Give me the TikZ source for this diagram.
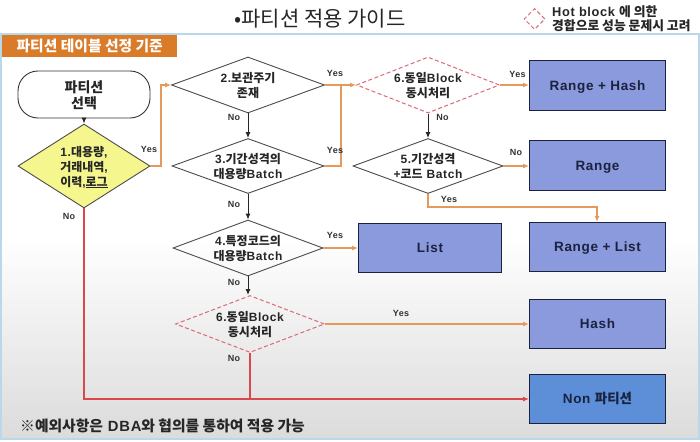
\documentclass[tikz,border=0pt]{standalone}
\usepackage{fontspec}
\setmainfont{Liberation Sans}[LetterSpace=5]
\newfontfamily\krf{Noto Sans CJK KR}
\newcommand{\kr}[1]{{\krf #1}}
\usetikzlibrary{shapes.geometric,arrows.meta}
\definecolor{orangeline}{HTML}{E59A5C}
\definecolor{redline}{HTML}{D9484C}
\definecolor{dashred}{HTML}{DB6A78}
\definecolor{boxblue}{HTML}{8A9ADC}
\definecolor{boxnon}{HTML}{5C8FD8}
\definecolor{navy}{HTML}{1A2240}
\definecolor{headorange}{HTML}{D97B28}
\definecolor{panelline}{HTML}{B9D8EA}
\definecolor{dyellow}{HTML}{F6F68E}
\tikzset{
  x=1pt,y=-1pt,
  dec/.style={diamond,draw=black!70,line width=0.9pt,inner sep=-9pt,align=center,text depth=0pt,font=\fontsize{12}{15}\selectfont\bfseries,text=black!85},
  hot/.style={dec,draw=dashred,line width=1pt,dash pattern=on 4pt off 2.5pt},
  result/.style={rectangle,draw=navy,line width=1pt,fill=boxblue,inner sep=0pt,anchor=north west,text height=9.6pt,text depth=0pt,font=\fontsize{13.5}{15}\selectfont\bfseries,text=navy},
  lab/.style={font=\fontsize{9}{10}\selectfont\bfseries,text=black!80,inner sep=0pt},
  yesline/.style={draw=orangeline,line width=1.3pt},
  noline/.style={draw=redline,line width=1.3pt},
  blk/.style={draw=black!85,line width=1pt,-{Latex[length=6pt,width=5pt]}},
  otip/.style={-{Latex[length=6pt,width=5pt]}},
}
\begin{document}
\begin{tikzpicture}
\useasboundingbox (0,0) rectangle (700,441);
\fill[white] (0,0) rectangle (700,441);
\shade[top color=white,bottom color=black!14,middle color=white] (1,34) rectangle (699,439);
\draw[panelline,line width=1.6pt] (1,34) rectangle (699,439);
% header
\node[fill=headorange,draw=none,minimum width=175pt,minimum height=22pt,inner sep=0pt,anchor=north west,text=white,font=\fontsize{14.8}{16}\selectfont\bfseries] (head) at (2,35) {\kr{파티션 테이블 선정 기준}};
% title
\node[inner sep=0pt,font=\fontsize{21}{24}\selectfont,text=black!85] (title) at (320,19) {\kr{•파티션 적용 가이드}};
% legend
\node[hot,minimum width=21pt,minimum height=21pt] (legd) at (534.5,19) {};
\node[inner sep=0pt,align=left,anchor=west,font=\fontsize{12.8}{14}\selectfont\bfseries,text=black!85] (legt) at (552,19) {Hot block \kr{에 의한}\\\kr{경합으로 성능 문제시 고려}};
% start
\node[draw=black!80,line width=0.9pt,fill=white,rounded corners=20pt,minimum width=132pt,minimum height=47pt,inner sep=0pt,align=center,text depth=0pt,font=\fontsize{14}{16}\selectfont\bfseries,text=black!85] (start) at (84,94.5) {\kr{파티션}\\\kr{선택}};
% decisions
\node[dec,fill=dyellow,minimum width=132pt,minimum height=84pt,shape aspect=1.57] (d1) at (84,166) {1.\kr{대용량},\\\kr{거래내역},\\\kr{이력},\underline{\kr{로그}}};
\node[dec,minimum width=153pt,minimum height=56pt,shape aspect=2.73] (d2) at (248,85) {2.\kr{보관주기}\\\kr{존재}};
\node[dec,minimum width=152pt,minimum height=55pt,shape aspect=2.76] (d3) at (248,166) {3.\kr{기간성격의}\\\kr{대용량}Batch};
\node[dec,minimum width=150pt,minimum height=56pt,shape aspect=2.68] (d4) at (248,248) {4.\kr{특정코드의}\\\kr{대용량}Batch};
\node[hot,minimum width=149pt,minimum height=57pt,shape aspect=2.61] (d6b) at (250,324) {6.\kr{동일}Block\\\kr{동시처리}};
\node[hot,minimum width=143pt,minimum height=56pt,shape aspect=2.55] (d6a) at (428,85) {6.\kr{동일}Block\\\kr{동시처리}};
\node[dec,minimum width=150pt,minimum height=55pt,shape aspect=2.73] (d5) at (428,166) {5.\kr{기간성격}\\+\kr{코드} Batch};
% results
\node[result,minimum width=136pt,minimum height=50pt] (rh) at (529,60) {Range + Hash};
\node[result,minimum width=136pt,minimum height=50pt] (r) at (529,140) {Range};
\node[result,minimum width=136pt,minimum height=49pt] (rl) at (529,222) {Range + List};
\node[result,minimum width=143pt,minimum height=49pt] (l) at (358,223) {List};
\node[result,minimum width=136pt,minimum height=49pt] (h) at (529,299) {Hash};
\node[result,fill=boxnon,minimum width=136pt,minimum height=49pt] (non) at (529,374) {Non \kr{파티션}};
% helpers
\coordinate (j1) at (341,85);
\coordinate (j2) at (250,399);
\coordinate (j3) at (84,399);
\coordinate (j4) at (161,166);
\coordinate (j5) at (161,85);
\coordinate (j6) at (341,166);
\coordinate (j7) at (428,207);
\coordinate (j8) at (597,207);
% connectors
\draw[blk] (start.south) -- (d1.north);
\draw[yesline,otip] (d1.east) -- (j4) -- (j5) -- (d2.west);
\draw[yesline,otip] (d2.east) -- (d6a.west);
\draw[yesline] (d3.east) -- (j6) -- (j1);
\draw[blk] (d2.south) -- (d3.north);
\draw[blk] (d3.south) -- (d4.north);
\draw[blk] (d4.south) -- (d4.south |- d6b.north);
\draw[blk] (d6a.south) -- (d5.north);
\draw[yesline,otip] (d6a.east) -- (d6a.east -| rh.west);
\draw[yesline,otip] (d5.east) -- (d5.east -| r.west);
\draw[yesline,otip] (d5.south) -- (j7) -- (j8) -- (j8 |- rl.north);
\draw[yesline,otip] (d4.east) -- (d4.east -| l.west);
\draw[yesline,otip] (d6b.east) -- (d6b.east -| h.west);
\draw[noline] (d6b.south) -- (j2);
\draw[noline,-{Latex[length=6pt,width=5pt]}] (d1.south) -- (j3) -- (j3 -| non.west);
% labels
\node[lab] (y1) at (149,149) {Yes};
\node[lab] (y2) at (335,73) {Yes};
\node[lab] (y3) at (335,150) {Yes};
\node[lab] (y4) at (335,235) {Yes};
\node[lab] (y5) at (401,313) {Yes};
\node[lab] (y6) at (517.5,74) {Yes};
\node[lab] (y7) at (449,199.5) {Yes};
\node[lab] (n1) at (69,216) {No};
\node[lab] (n2) at (234,117.5) {No};
\node[lab] (n3) at (234,204) {No};
\node[lab] (n4) at (234,282) {No};
\node[lab] (n5) at (234,358) {No};
\node[lab] (n6) at (442.5,117) {No};
\node[lab] (n7) at (516,152.5) {No};
% note
\node[inner sep=0pt,anchor=west,font=\fontsize{14.8}{16}\selectfont\bfseries,text=black!85] (note) at (20,426) {\kr{※예외사항은} DBA\kr{와 협의를 통하여 적용 가능}};
\end{tikzpicture}
\end{document}
